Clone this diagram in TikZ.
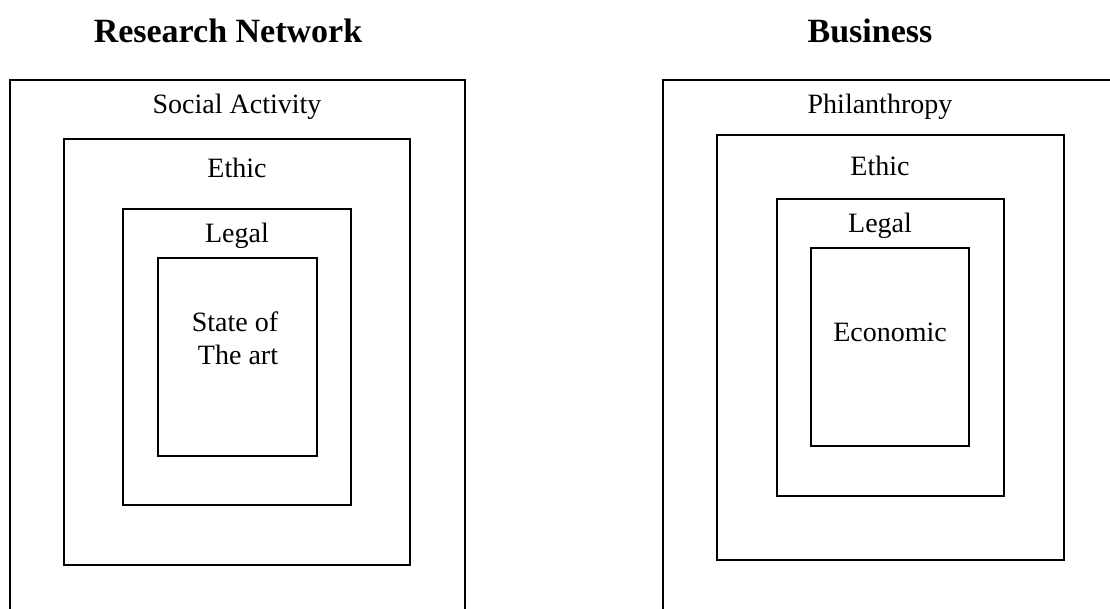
\documentclass[tikz,border=0pt]{standalone}
\usepackage{fontspec}
\setmainfont{Liberation Serif}
\begin{document}
\begin{tikzpicture}[x=1pt,y=-1pt,
  frame/.style={draw=black, line width=1.5pt, rectangle, inner sep=0pt, outer sep=0pt},
  lbl/.style={anchor=base, inner sep=0pt, font=\fontsize{28}{33}\selectfont},
  ttl/.style={anchor=base, inner sep=0pt, font=\fontsize{34}{40}\selectfont\bfseries}]
\useasboundingbox (0,0) rectangle (1110,608);
\clip (0,0) rectangle (1110,608);
% left panel
\node[ttl] (tl) at (228,42) {Research Network};
\node[frame, minimum width=455pt, minimum height=560pt] (L1) at (237.5,360) {};
\node[frame, minimum width=346pt, minimum height=426pt] (L2) at (237,352) {};
\node[frame, minimum width=228pt, minimum height=296pt] (L3) at (237,357) {};
\node[frame, minimum width=159pt, minimum height=198pt] (L4) at (237.5,357) {};
\node[lbl] (t1) at (237,113) {Social Activity};
\node[lbl] (t2) at (237,177) {Ethic};
\node[lbl] (t3) at (237,242) {Legal};
\node[lbl] (t4) at (235,331) {State of};
\node[lbl] (t5) at (238,364) {The art};
% right panel
\node[ttl] (tr) at (870,42) {Business};
\node[frame, minimum width=457pt, minimum height=560pt] (R1) at (891.5,360) {};
\node[frame, minimum width=347pt, minimum height=425pt] (R2) at (890.5,347.5) {};
\node[frame, minimum width=227pt, minimum height=297pt] (R3) at (890.5,347.5) {};
\node[frame, minimum width=158pt, minimum height=198pt] (R4) at (890,347) {};
\node[lbl] (s1) at (880,113) {Philanthropy};
\node[lbl] (s2) at (880,175) {Ethic};
\node[lbl] (s3) at (880,232) {Legal};
\node[lbl] (s4) at (890,341) {Economic};
\end{tikzpicture}
\end{document}
